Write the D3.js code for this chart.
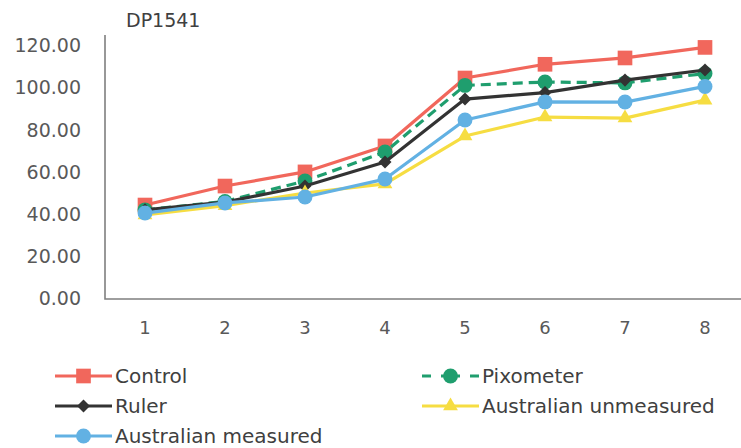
<!DOCTYPE html>
<html>
<head>
<meta charset="utf-8">
<script src="https://cdn.jsdelivr.net/npm/d3@7"></script>
<style>
  html, body { margin: 0; padding: 0; background: #fff; }
  svg { display: block; font-family: "DejaVu Sans", sans-serif; }
</style>
</head>
<body>
<svg id="chart" width="741" height="448"></svg>
<script>
// Sample positions along the x axis
const categories = [1, 2, 3, 4, 5, 6, 7, 8];

// Measured values per method
const control      = [44.3, 53.3, 60.0, 72.3, 104.5, 111.0, 114.0, 119.0];
const pixometer    = [42.0, 46.0, 55.7, 69.4, 101.0, 102.6, 102.2, 106.6];
const ruler        = [42.0, 45.7, 53.3, 64.7, 94.5, 97.6, 103.5, 108.3];
const ausUnmeas    = [39.6, 44.0, 50.0, 54.3, 77.0, 86.0, 85.5, 94.0];
const ausMeasured  = [40.5, 45.3, 48.1, 56.6, 84.6, 93.2, 93.1, 100.5];

const yTicks = [0, 20, 40, 60, 80, 100, 120];
const title = "DP1541";

const series = [
  { name: "Control", values: control, color: "#f1675c", marker: "square", dash: null },
  { name: "Pixometer", values: pixometer, color: "#1f9e6e", marker: "circle", dash: "10,6" },
  { name: "Ruler", values: ruler, color: "#333333", marker: "diamond", dash: null },
  { name: "Australian unmeasured", values: ausUnmeas, color: "#f6dd42", marker: "triangle", dash: null },
  { name: "Australian measured", values: ausMeasured, color: "#62b1e3", marker: "circle", dash: null }
];

const svg = d3.select("#chart");
const plotLeft = 105, plotRight = 745, plotTop = 35, plotBottom = 299;

const x = d3.scaleBand().domain(categories).range([plotLeft, plotRight]);
const y = d3.scaleLinear().domain([0, 120]).range([plotBottom - 0.5, 45.3]);
const cx = d => x(d) + x.bandwidth() / 2;

// Title
svg.append("text")
  .attr("x", 126).attr("y", 27)
  .attr("font-size", 19).attr("fill", "#404040")
  .text(title);

// Y axis labels
svg.append("g").selectAll("text").data(yTicks).join("text")
  .attr("x", 81).attr("y", d => y(d))
  .attr("dy", "0.36em")
  .attr("text-anchor", "end")
  .attr("font-size", 19).attr("fill", "#595959")
  .text(d => d.toFixed(2));

// X axis labels
svg.append("g").selectAll("text").data(categories).join("text")
  .attr("x", d => cx(d)).attr("y", 328)
  .attr("dy", "0.36em")
  .attr("text-anchor", "middle")
  .attr("font-size", 18).attr("fill", "#595959")
  .text(d => d);

// Axis lines
svg.append("path")
  .attr("d", `M${plotLeft},${plotTop}V${plotBottom}H${plotRight}`)
  .attr("fill", "none").attr("stroke", "#7f7f7f").attr("stroke-width", 1.6);

// Marker shapes; the diamond is a square turned 45 degrees
const symbolFor = {
  square: { d: d3.symbol().type(d3.symbolSquare).size(215)(), rot: 0 },
  circle: { d: d3.symbol().type(d3.symbolCircle).size(175)(), rot: 0 },
  diamond: { d: d3.symbol().type(d3.symbolSquare).size(85)(), rot: 45 },
  triangle: { d: d3.symbol().type(d3.symbolTriangle).size(95)(), rot: 0 }
};

const line = d3.line().x((d, i) => cx(categories[i])).y(d => y(d));

series.forEach(s => {
  const g = svg.append("g");
  const sym = symbolFor[s.marker];
  g.append("path")
    .attr("d", line(s.values))
    .attr("fill", "none")
    .attr("stroke", s.color)
    .attr("stroke-width", 3.2)
    .attr("stroke-dasharray", s.dash)
    .attr("stroke-linejoin", "round");
  g.selectAll("path.m").data(s.values).join("path")
    .attr("class", "m")
    .attr("transform", (d, i) => `translate(${cx(categories[i])},${y(d)}) rotate(${sym.rot})`)
    .attr("d", sym.d)
    .attr("fill", s.color);
});

// Legend
const legendItems = [
  { s: series[0], lx: 55, ly: 376 },
  { s: series[1], lx: 422, ly: 376 },
  { s: series[2], lx: 55, ly: 406 },
  { s: series[3], lx: 422, ly: 406 },
  { s: series[4], lx: 55, ly: 436 }
];
legendItems.forEach(({ s, lx, ly }) => {
  const g = svg.append("g");
  const sym = symbolFor[s.marker];
  g.append("line")
    .attr("x1", lx).attr("x2", lx + 57)
    .attr("y1", ly).attr("y2", ly)
    .attr("stroke", s.color).attr("stroke-width", 3.2)
    .attr("stroke-dasharray", s.dash ? "9,10,19,10,9" : null);
  g.append("path")
    .attr("transform", `translate(${lx + 28.5},${ly}) rotate(${sym.rot})`)
    .attr("d", sym.d)
    .attr("fill", s.color);
  g.append("text")
    .attr("x", lx + 60).attr("y", ly)
    .attr("dy", "0.36em")
    .attr("font-size", 20).attr("fill", "#404040")
    .text(s.name);
});
</script>
</body>
</html>
